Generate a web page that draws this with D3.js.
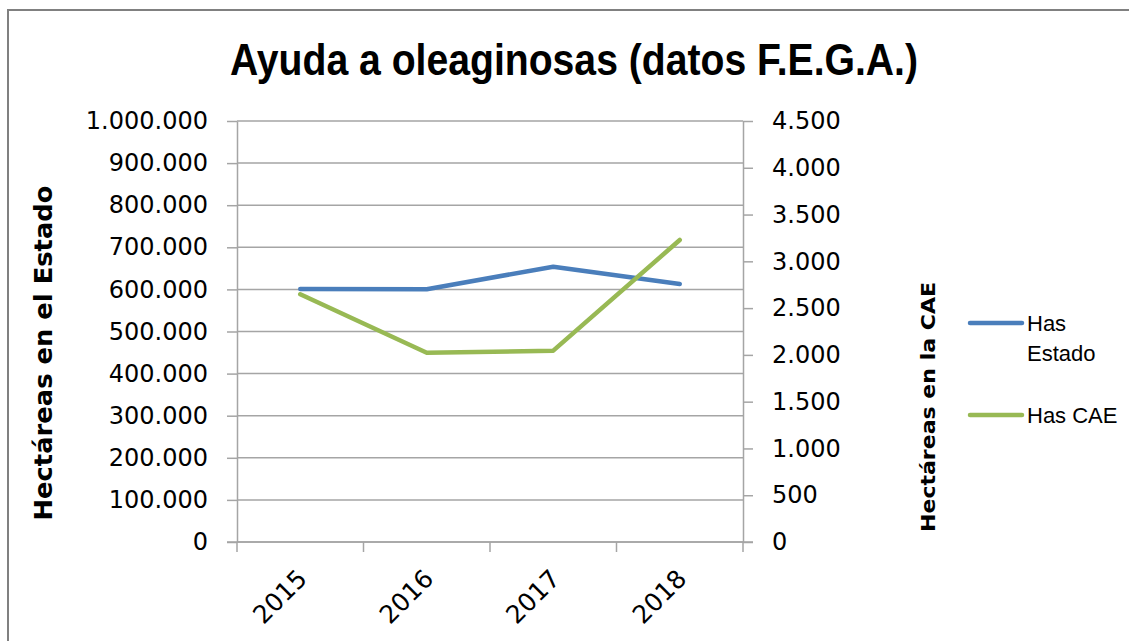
<!DOCTYPE html>
<html>
<head>
<meta charset="utf-8">
<script src="https://cdn.jsdelivr.net/npm/d3@7"></script>
<style>
  body { margin: 0; background: #fff; }
  svg { display: block; }
</style>
</head>
<body>
<div id="chart"></div>
<script>
// values
const years = ['2015', '2016', '2017', '2018'];
const hasEstado = [601000, 600500, 654000, 613000];
const hasCAE = [2648, 2023, 2045, 3228];
const leftTicks = d3.range(0, 1000001, 100000);
const rightTicks = d3.range(0, 4501, 500);

const width = 1129, height = 641;
const margin = { left: 237, right: 743, top: 121, bottom: 542 };
const gridColor = '#a5a5a5';

// es-ES style numbers: 1.000.000
const locale = d3.formatLocale({ decimal: ',', thousands: '.', grouping: [3], currency: ['', '€'] });
const fmt = locale.format(',d');

const svg = d3.select('#chart')
  .append('svg')
  .attr('width', width)
  .attr('height', height);

// outer chart frame (only top and left fit inside the picture)
svg.append('path')
  .attr('d', `M8,${height} L8,10 L${width},10`)
  .attr('fill', 'none')
  .attr('stroke', '#808080')
  .attr('stroke-width', 2);

// scales
let x = d3.scaleBand().domain(years).range([margin.left, margin.right]);
let yL = d3.scaleLinear().domain([0, 1000000]).range([margin.bottom, margin.top]);
let yR = d3.scaleLinear().domain([0, 4500]).range([margin.bottom, margin.top]);

// title
svg.append('text')
  .attr('x', 574)
  .attr('y', 75)
  .attr('text-anchor', 'middle')
  .attr('textLength', 688)
  .attr('lengthAdjust', 'spacingAndGlyphs')
  .style('font-family', '"Liberation Sans Narrow", "Liberation Sans", sans-serif')
  .style('font-weight', 'bold')
  .style('font-size', '44px')
  .text('Ayuda a oleaginosas (datos F.E.G.A.)');

// gridlines
svg.append('g')
  .selectAll('line')
  .data(leftTicks)
  .join('line')
  .attr('x1', margin.left)
  .attr('x2', margin.right)
  .attr('y1', d => yL(d))
  .attr('y2', d => yL(d))
  .attr('stroke', gridColor)
  .attr('stroke-width', 1.5);

function styleAxis(g) {
  g.selectAll('path, line').attr('stroke', gridColor).attr('stroke-width', 1.5);
  g.selectAll('text')
    .style('font-family', '"DejaVu Sans", sans-serif')
    .style('font-size', '24px')
    .attr('fill', '#000');
}

// left axis
svg.append('g')
  .attr('transform', `translate(${margin.left},0)`)
  .call(d3.axisLeft(yL).tickValues(leftTicks).tickFormat(fmt).tickSize(10).tickSizeOuter(0).tickPadding(19))
  .call(styleAxis);

// right axis
svg.append('g')
  .attr('transform', `translate(${margin.right},0)`)
  .call(d3.axisRight(yR).tickValues(rightTicks).tickFormat(fmt).tickSize(10).tickSizeOuter(0).tickPadding(19))
  .call(styleAxis);

// bottom axis: tick marks on category boundaries
let bounds = years.map(d => x(d)).concat([margin.right]);
let xg = svg.append('g');
xg.append('line')
  .attr('x1', margin.left - 10)
  .attr('x2', margin.right + 10)
  .attr('y1', margin.bottom)
  .attr('y2', margin.bottom)
  .attr('stroke', gridColor)
  .attr('stroke-width', 1.5);
xg.selectAll('line.tick')
  .data(bounds)
  .join('line')
  .attr('class', 'tick')
  .attr('x1', d => d)
  .attr('x2', d => d)
  .attr('y1', margin.bottom)
  .attr('y2', margin.bottom + 10)
  .attr('stroke', gridColor)
  .attr('stroke-width', 1.5);

// rotated year labels
xg.selectAll('text')
  .data(years)
  .join('text')
  .attr('transform', d => `translate(${x(d) + x.bandwidth() / 2 + 2},${margin.bottom + 32}) rotate(-45)`)
  .attr('text-anchor', 'end')
  .attr('dy', '0.35em')
  .style('font-family', '"DejaVu Sans", sans-serif')
  .style('font-size', '25px')
  .text(d => d);

// axis titles
svg.append('text')
  .attr('transform', 'translate(52,353) rotate(-90)')
  .attr('text-anchor', 'middle')
  .attr('textLength', 335)
  .attr('lengthAdjust', 'spacingAndGlyphs')
  .style('font-family', '"DejaVu Sans", sans-serif')
  .style('font-weight', 'bold')
  .style('font-size', '24px')
  .text('Hectáreas en el Estado');

svg.append('text')
  .attr('transform', 'translate(935,407) rotate(-90)')
  .attr('text-anchor', 'middle')
  .attr('textLength', 250)
  .attr('lengthAdjust', 'spacingAndGlyphs')
  .style('font-family', '"DejaVu Sans", sans-serif')
  .style('font-weight', 'bold')
  .style('font-size', '20px')
  .text('Hectáreas en la CAE');

// lines
const cx = d => x(d) + x.bandwidth() / 2;
let lineL = d3.line().x((d, i) => cx(years[i])).y(d => yL(d));
let lineR = d3.line().x((d, i) => cx(years[i])).y(d => yR(d));

let series = [
  { name: ['Has', 'Estado'], values: hasEstado, gen: lineL, color: '#4a7ebb' },
  { name: ['Has CAE'], values: hasCAE, gen: lineR, color: '#98b954' }
];

svg.append('g')
  .selectAll('path')
  .data(series)
  .join('path')
  .attr('d', d => d.gen(d.values))
  .attr('fill', 'none')
  .attr('stroke', d => d.color)
  .attr('stroke-width', 4.5)
  .attr('stroke-linejoin', 'round')
  .attr('stroke-linecap', 'round');

// legend
const legendY = [323, 415];
let legend = svg.append('g')
  .selectAll('g')
  .data(series)
  .join('g')
  .attr('transform', (d, i) => `translate(970,${legendY[i]})`);

legend.append('line')
  .attr('x1', 0)
  .attr('x2', 52)
  .attr('stroke', d => d.color)
  .attr('stroke-width', 4.5)
  .attr('stroke-linecap', 'round');

legend.append('text')
  .attr('x', 57)
  .style('font-family', '"Liberation Sans", sans-serif')
  .style('font-size', '22px')
  .selectAll('tspan')
  .data(d => d.name)
  .join('tspan')
  .attr('x', 57)
  .attr('y', (d, i) => 8 + i * 30)
  .text(d => d);
</script>
</body>
</html>
